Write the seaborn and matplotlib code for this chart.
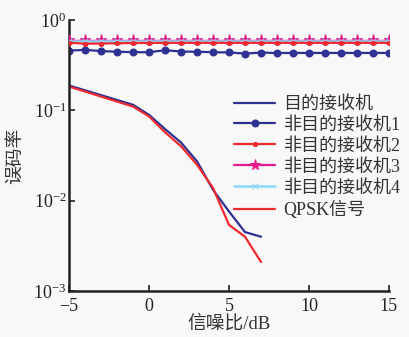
import numpy as np
import pandas as pd
import seaborn as sns
import matplotlib
matplotlib.use("Agg")
import matplotlib.pyplot as plt

sns.set_style("ticks")
plt.rcParams['font.family'] = ['Liberation Serif', 'Noto Sans CJK SC']
plt.rcParams['mathtext.fontset'] = 'stix'

# ---- data ----
snr_flat = list(range(-5, 16))
ber_nt1 = [0.458, 0.466, 0.452, 0.445, 0.439, 0.439, 0.462, 0.447, 0.444, 0.439, 0.436,
           0.424, 0.435, 0.430, 0.431, 0.431, 0.431, 0.431, 0.431, 0.431, 0.431]
ber_nt2 = [0.560, 0.545, 0.548, 0.552, 0.555, 0.556, 0.557, 0.557, 0.557, 0.557, 0.557,
           0.557, 0.557, 0.557, 0.557, 0.557, 0.557, 0.557, 0.557, 0.557, 0.557]
ber_nt3 = [0.597] * 21
ber_nt4 = [0.582] * 21

snr_low = [-5, -1, 0, 1, 2, 3, 4, 5, 6, 7]
ber_target = [0.188, 0.115, 0.089, 0.062, 0.044, 0.0272, 0.0132, 0.0076, 0.0045, 0.0040]
ber_qpsk = [0.183, 0.110, 0.0855, 0.057, 0.040, 0.025, 0.0138, 0.0054, 0.0040, 0.0021]

labels = ["目的接收机", "非目的接收机1", "非目的接收机2", "非目的接收机3", "非目的接收机4", "QPSK信号"]
xticks = [-5, 0, 5, 10, 15]

bg = "#f8f8f8"
fig = plt.figure(figsize=(4.09, 3.37), dpi=100, facecolor=bg)
ax = fig.add_axes([0.169, 0.136, 0.782, 0.805], facecolor=bg)

navy = "#2e3192"
red = "#ee2a2f"
mag = "#e8198b"
lblue = "#8ed8f8"

sns.lineplot(x=snr_low, y=ber_target, ax=ax, color=navy, lw=1.6, label=labels[0])
sns.lineplot(x=snr_flat, y=ber_nt1, ax=ax, color=navy, lw=1.6, marker='o', markersize=5,
             markeredgecolor=navy, markerfacecolor=navy, label=labels[1])
sns.lineplot(x=snr_flat, y=ber_nt2, ax=ax, color=red, lw=1.6, marker='o', markersize=3,
             markeredgecolor=red, label=labels[2])
sns.lineplot(x=snr_flat, y=ber_nt3, ax=ax, color=mag, lw=1.0, marker='*', markersize=8,
             markeredgecolor=mag, markerfacecolor=mag, label=labels[3])
sns.lineplot(x=snr_flat, y=ber_nt4, ax=ax, color=lblue, lw=1.8, marker='x', markersize=4,
             markeredgecolor=lblue, label=labels[4])
sns.lineplot(x=snr_low, y=ber_qpsk, ax=ax, color=red, lw=1.6, label=labels[5])
ax.lines[2].set_zorder(5)
ax.lines[3].set_zorder(4)
ax.lines[4].set_zorder(4.5)

ax.set_yscale('log')
ax.set_ylim(1e-3, 1)
ax.set_xlim(-5, 15)
ax.set_xticks(xticks)
ax.set_xticklabels([("\u2212%d" % -t) if t < 0 else str(t) for t in xticks])
ax.yaxis.set_minor_locator(matplotlib.ticker.NullLocator())
ax.tick_params(direction='in', length=4, width=1.2, labelsize=13, colors='#222222')
ax.tick_params(axis='x', pad=5)
ax.tick_params(axis='y', pad=2)
for s in ['top', 'right']:
    ax.spines[s].set_visible(False)
for s in ['left', 'bottom']:
    ax.spines[s].set_linewidth(1.8)
    ax.spines[s].set_color('#222222')

ax.set_xlabel("信噪比/dB", fontsize=13.5, color='#333333')
ax.set_ylabel("误码率", fontsize=13.5, color='#333333')
ax.xaxis.set_label_coords(0.5, -0.088)
ax.yaxis.set_label_coords(-0.1375, 0.5)

leg = ax.legend(loc='upper left', bbox_to_anchor=(0.515, 0.72), frameon=False,
                fontsize=13, handlelength=2.3, handletextpad=0.45, labelspacing=0.22,
                borderaxespad=0, borderpad=0)
leg.legend_handles[3].set_linewidth(1.6)
for t in leg.get_texts():
    t.set_color('#333333')

fig.savefig("out.png", dpi=100, facecolor=bg)
